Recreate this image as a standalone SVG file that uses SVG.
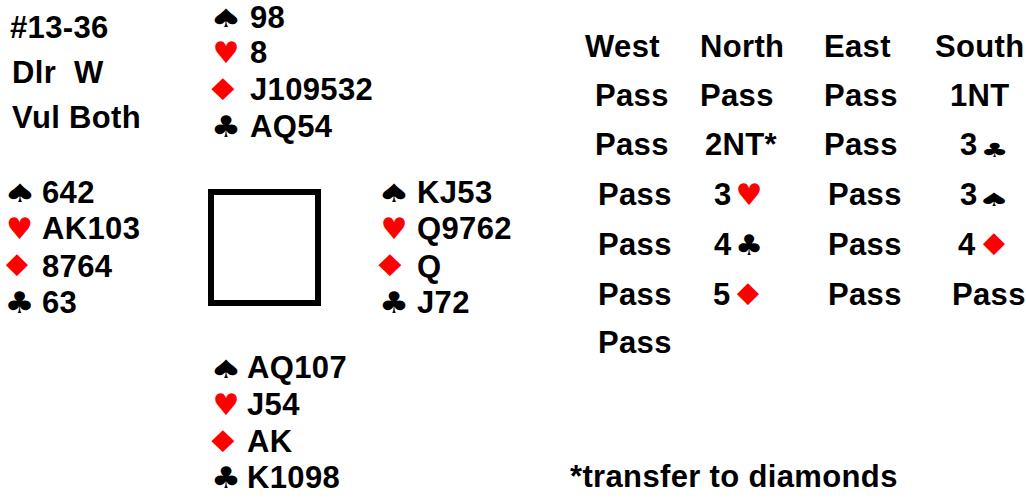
<svg xmlns="http://www.w3.org/2000/svg" width="1026" height="498" viewBox="0 0 1026 498">
<style>
.t{font-family:"Liberation Sans",Arial,sans-serif;font-weight:bold;font-size:31px;letter-spacing:0.35px;fill:#000}
.s{font-family:"DejaVu Sans",sans-serif;font-size:30px;text-anchor:middle}
.b{fill:#000}
.r{fill:#ff0000}
</style>
<rect width="1026" height="498" fill="#fff"/>
<g id="info">
<text class="t" x="10" y="38">#13-36</text>
<text class="t" x="12" y="83" xml:space="preserve">Dlr  W</text>
<text class="t" x="12" y="128">Vul Both</text>
</g>
<g id="north">
<text class="s b" transform="translate(226,27) scale(1.3,0.85)">♠</text><text class="t" x="250" y="28">98</text>
<text class="s r" transform="translate(226,63)">♥</text><text class="t" x="250" y="63">8</text>
<text class="s r" transform="translate(223,100) scale(1.35,1)">♦</text><text class="t" x="250" y="100">J109532</text>
<text class="s b" transform="translate(226,137) scale(1.12,1)">♣</text><text class="t" x="250" y="137">AQ54</text>
</g>
<g id="west">
<text class="s b" transform="translate(20,202) scale(1.3,0.85)">♠</text><text class="t" x="42" y="203">642</text>
<text class="s r" transform="translate(19.5,239)">♥</text><text class="t" x="42" y="239">AK103</text>
<text class="s r" transform="translate(17,276) scale(1.3,1)">♦</text><text class="t" x="42" y="277">8764</text>
<text class="s b" transform="translate(19.5,313) scale(1.12,1)">♣</text><text class="t" x="42" y="313">63</text>
</g>
<g id="table">
<rect x="211" y="192" width="107" height="111" fill="none" stroke="#000" stroke-width="6"/>
</g>
<g id="east">
<text class="s b" transform="translate(394,202) scale(1.3,0.85)">♠</text><text class="t" x="417" y="203">KJ53</text>
<text class="s r" transform="translate(394,239)">♥</text><text class="t" x="417" y="239">Q9762</text>
<text class="s r" transform="translate(390,276) scale(1.35,1)">♦</text><text class="t" x="417" y="277">Q</text>
<text class="s b" transform="translate(394,313) scale(1.12,1)">♣</text><text class="t" x="417" y="313">J72</text>
</g>
<g id="south">
<text class="s b" transform="translate(226,378) scale(1.3,0.85)">♠</text><text class="t" x="247" y="378">AQ107</text>
<text class="s r" transform="translate(226,415)">♥</text><text class="t" x="247" y="415">J54</text>
<text class="s r" transform="translate(223,452) scale(1.35,1)">♦</text><text class="t" x="247" y="452">AK</text>
<text class="s b" transform="translate(226,488) scale(1.12,1)">♣</text><text class="t" x="247" y="488">K1098</text>
</g>
<g id="auction">
<text class="t" x="585" y="57">West</text>
<text class="t" x="700" y="57">North</text>
<text class="t" x="824" y="57">East</text>
<text class="t" x="935" y="57">South</text>
<text class="t" x="595" y="106">Pass</text>
<text class="t" x="700" y="106">Pass</text>
<text class="t" x="824" y="106">Pass</text>
<text class="t" x="950" y="106">1NT</text>
<text class="t" x="595" y="155">Pass</text>
<text class="t" x="705" y="155">2NT*</text>
<text class="t" x="824" y="155">Pass</text>
<text class="t" x="960" y="155">3</text><text class="s b" transform="translate(994.5,157) scale(1.05,0.65)">♣</text>
<text class="t" x="598" y="205">Pass</text>
<text class="t" x="714" y="205">3</text><text class="s r" transform="translate(749,205)">♥</text>
<text class="t" x="828" y="205">Pass</text>
<text class="t" x="960" y="205">3</text><text class="s b" transform="translate(994,206) scale(1.25,0.62)">♠</text>
<text class="t" x="598" y="255">Pass</text>
<text class="t" x="714" y="255">4</text><text class="s b" transform="translate(749,255) scale(1.05,0.95)">♣</text>
<text class="t" x="828" y="255">Pass</text>
<text class="t" x="958" y="255">4</text><text class="s r" transform="translate(994,255) scale(1.3,1)">♦</text>
<text class="t" x="598" y="305">Pass</text>
<text class="t" x="713" y="305">5</text><text class="s r" transform="translate(748,305) scale(1.3,1)">♦</text>
<text class="t" x="828" y="305">Pass</text>
<text class="t" x="952" y="305">Pass</text>
<text class="t" x="598" y="353">Pass</text>
</g>
<g id="footnote">
<text class="t" x="570" y="487">*transfer to diamonds</text>
</g>
</svg>
